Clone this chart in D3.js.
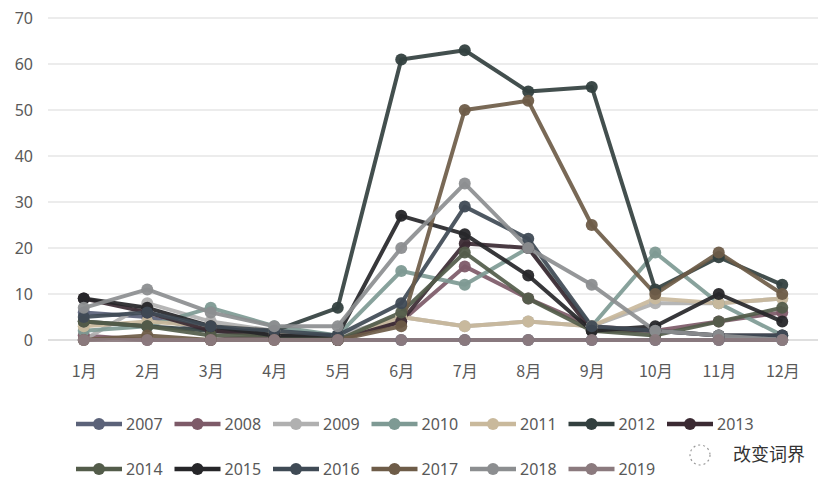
<!DOCTYPE html>
<html><head><meta charset="utf-8">
<script src="https://cdn.jsdelivr.net/npm/d3@7/dist/d3.min.js"></script>
<style>
html,body{margin:0;padding:0;background:#fff;}
svg{display:block;font-family:"Noto Sans CJK SC","Noto Sans",sans-serif;}
</style></head>
<body><svg id="c" width="836" height="492"></svg>
<script>
const months = ["1月","2月","3月","4月","5月","6月","7月","8月","9月","10月","11月","12月"];
const yTicks = [0,10,20,30,40,50,60,70];
const years = ["2007","2008","2009","2010","2011","2012","2013","2014","2015","2016","2017","2018","2019"];
const colors = ["#5b6279","#7d5a68","#b0b0b0","#7e9a94","#c9b99c","#33403f","#3b2a33","#535c4a","#262629","#3f4a55","#6e5c48","#8c8e90","#8b7a7e"];
const s2007 = [6, 5, 2, 1, 0, 0, 0, 0, 0, 0, 0, 0];
const s2008 = [1, 0, 0, 1, 0, 4, 16, 9, 3, 2, 4, 6];
const s2009 = [0, 8, 4, 2, 1, 5, 3, 4, 3, 8, 8, 9];
const s2010 = [2, 3, 7, 3, 1, 15, 12, 20, 3, 19, 8, 1];
const s2011 = [3, 4, 3, 2, 0, 5, 3, 4, 3, 9, 8, 9];
const s2012 = [4, 3, 2, 2, 7, 61, 63, 54, 55, 11, 18, 12];
const s2013 = [9, 6, 2, 1, 0, 4, 21, 20, 2, 2, 1, 1];
const s2014 = [4, 3, 1, 1, 0, 6, 19, 9, 2, 1, 4, 7];
const s2015 = [9, 7, 3, 1, 1, 27, 23, 14, 2, 3, 10, 4];
const s2016 = [5, 6, 3, 2, 1, 8, 29, 22, 3, 2, 1, 1];
const s2017 = [0, 1, 0, 0, 0, 3, 50, 52, 25, 10, 19, 10];
const s2018 = [7, 11, 6, 3, 3, 20, 34, 20, 12, 2, 1, 0];
const s2019 = [0, 0, 0, 0, 0, 0, 0, 0, 0, 0, 0, 0];
const seriesValues = [s2007,s2008,s2009,s2010,s2011,s2012,s2013,s2014,s2015,s2016,s2017,s2018,s2019];

const svg = d3.select("#c");
const plotLeft = 52, plotRight = 814, plotTop = 18, plotBottom = 340;
const x = d3.scalePoint().domain(months).range([plotLeft, plotRight]).padding(0.5);
const y = d3.scaleLinear().domain([0,70]).range([plotBottom, plotTop]);
const textColor = "#595959";

// grid
svg.append("g").selectAll("line").data(yTicks).join("line")
  .attr("x1", 48).attr("x2", 818)
  .attr("y1", d=>y(d)).attr("y2", d=>y(d))
  .attr("stroke", d=> d===0 ? "#bfbfbf" : "#d9d9d9").attr("stroke-width", 1);

// y axis labels
const yAxis = d3.axisLeft(y).tickValues(yTicks).tickSize(0).tickPadding(0);
const ya = svg.append("g").attr("transform","translate(33,0)").call(yAxis);
ya.select(".domain").remove();
ya.selectAll("text").attr("fill",textColor).style("font-size","16px").style("font-family","'Noto Sans','Noto Sans CJK SC',sans-serif");

// x axis labels
const xAxis = d3.axisBottom(x).tickSize(0).tickPadding(0);
const xa = svg.append("g").attr("transform","translate(0,366)").call(xAxis);
xa.select(".domain").remove();
xa.selectAll("text").attr("fill",textColor).style("font-size","16px").style("font-family","'Noto Sans CJK SC',sans-serif");

// lines
const line = d3.line().x((d,i)=>x(months[i])).y(d=>y(d));
const plot = svg.append("g");
seriesValues.forEach((vals,k)=>{
  plot.append("path").datum(vals).attr("d",line).attr("fill","none")
    .attr("stroke",colors[k]).attr("stroke-width",4).attr("stroke-linejoin","round").attr("opacity",0.92);
});
seriesValues.forEach((vals,k)=>{
  plot.append("g").selectAll("circle").data(vals).join("circle")
    .attr("cx",(d,i)=>x(months[i])).attr("cy",d=>y(d)).attr("r",6)
    .attr("fill",colors[k]).attr("opacity",0.95);
});

// legend
const legend = svg.append("g");
years.forEach((yr,k)=>{
  const row = k < 7 ? 0 : 1;
  const col = k < 7 ? k : k-7;
  const lx = 76 + col*98.5;
  const ly = row===0 ? 424 : 469;
  const g = legend.append("g").attr("transform",`translate(${lx},${ly})`);
  g.append("line").attr("x1",0).attr("x2",46).attr("y1",0).attr("y2",0)
    .attr("stroke",colors[k]).attr("stroke-width",4.5);
  g.append("circle").attr("cx",23).attr("cy",0).attr("r",6).attr("fill",colors[k]);
  g.append("text").attr("x",50).attr("y",0).attr("dy","0.36em")
    .attr("fill",textColor).style("font-size","16px").style("font-family","'Noto Sans',sans-serif").text(yr);
});

// watermark
const wm = svg.append("g");
wm.append("circle").attr("cx",700).attr("cy",455).attr("r",10)
  .attr("fill","none").attr("stroke","#999").attr("stroke-width",1.2).attr("stroke-dasharray","2,3");
wm.append("text").attr("x",733).attr("y",455).attr("dy","0.36em")
  .attr("fill","#333").style("font-size","18px").style("font-family","'Noto Sans CJK SC',sans-serif").text("改变词界");
</script>
</body></html>
